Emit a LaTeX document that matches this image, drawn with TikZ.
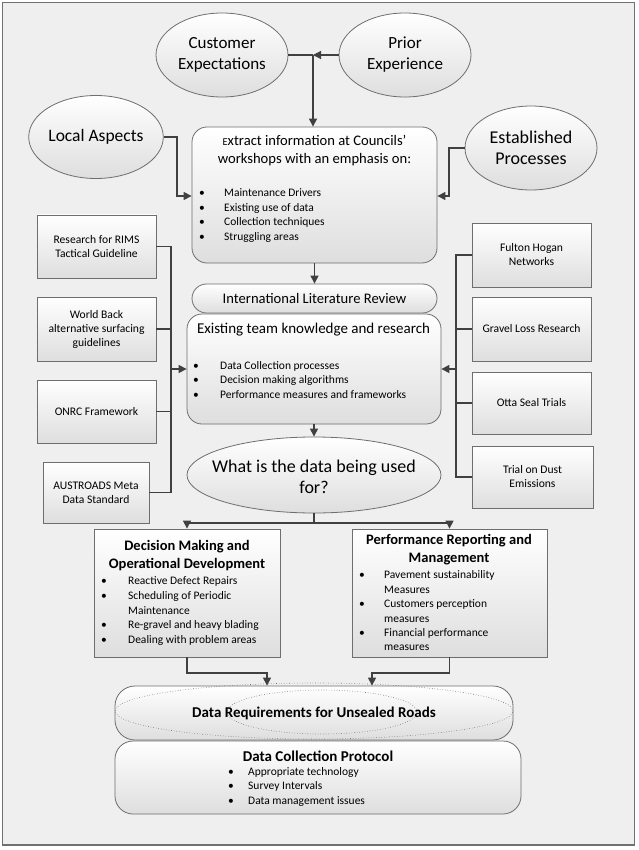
\documentclass[tikz,border=0pt]{standalone}
\usepackage{fontspec}
\setmainfont{Carlito}
\usetikzlibrary{shapes.geometric,arrows.meta,calc}
\definecolor{bg}{HTML}{EFEFEF}
\definecolor{ln}{HTML}{404040}
\definecolor{bd}{HTML}{6E6E6E}
\definecolor{shd}{HTML}{DEDEDE}
\definecolor{frm}{HTML}{707070}
\newcommand\blt[1]{\makebox[#1][l]{\textbullet}}
\newcommand\bind[1]{\hspace*{#1}}
\tikzset{
  ell/.style={ellipse, draw=bd, line width=0.8pt, top color=white, bottom color=shd, inner sep=0pt, align=center},
  rbox/.style={rectangle, draw=bd, line width=0.8pt, top color=white, bottom color=shd, inner sep=0pt},
  sbox/.style={rectangle, draw=bd, line width=0.8pt, top color=white, bottom color=shd, inner sep=0pt, align=center, font=\fontsize{11.6}{14}\selectfont},
  txt/.style={inner sep=0pt, align=center},
  blist/.style={inner sep=0pt, align=left, anchor=west},
  con/.style={ln, line width=1.2pt},
  arr/.style={ln, line width=1.2pt, -{Triangle[length=8pt,width=8pt]}},
  dots/.style={ellipse, draw=gray!90!black, dotted, line width=0.6pt, inner sep=0pt}
}
\begin{document}
\begin{tikzpicture}[x=1pt,y=-1pt]
\useasboundingbox (0,0) rectangle (638,850);
\fill[white] (0,0) rectangle (638,850);
\draw[frm, line width=1.3pt, fill=bg] (2.5,2.5) rectangle (634.5,845);

% top ellipses
\node[ell, minimum width=132pt, minimum height=84pt, font=\fontsize{17}{21}\selectfont] (cust) at (222,55) {Customer\\Expectations};
\node[ell, minimum width=132pt, minimum height=84pt, font=\fontsize{17}{21}\selectfont] (prior) at (405,55) {Prior\\Experience};
\node[ell, minimum width=132pt, minimum height=83pt, font=\fontsize{17.5}{21}\selectfont] (local) at (96,137) {Local Aspects};
\node[ell, minimum width=132pt, minimum height=84pt, font=\fontsize{18}{20.5}\selectfont] (est) at (531,148) {Established\\Processes};

% workshop box
\node[rbox, rounded corners=15pt, minimum width=245pt, minimum height=136pt] (work) at (314.5,195) {};
\node[txt, font=\fontsize{14.6}{18}\selectfont] (workt) at (314.5,151) {{\fontsize{10.5}{10.5}\selectfont E}xtract information at Councils’\\workshops with an emphasis on:};
\node[blist, font=\fontsize{11.5}{14.7}\selectfont] (workb) at (199,215.5) {\blt{25pt}Maintenance Drivers\\\blt{25pt}Existing use of data\\\blt{25pt}Collection techniques\\\blt{25pt}Struggling areas};

% literature review and team knowledge
\node[rbox, rounded corners=14.5pt, minimum width=245pt, minimum height=29pt, font=\fontsize{14.6}{17}\selectfont] (intl) at (314.5,298.5) {International Literature Review};
\node[rbox, rounded corners=15pt, minimum width=254pt, minimum height=110pt] (exist) at (314,369) {};
\node[txt, font=\fontsize{15}{18}\selectfont] (existt) at (313.5,330) {Existing team knowledge and research};
\node[blist, font=\fontsize{11.5}{14.5}\selectfont] (existb) at (193,379.7) {\blt{27pt}Data Collection processes\\\blt{27pt}Decision making algorithms\\\blt{27pt}Performance measures and frameworks};

% question ellipse
\node[ell, minimum width=254pt, minimum height=76pt] (dataell) at (314,475) {};
\node[txt, font=\fontsize{18}{20.5}\selectfont] (datat) at (314,477) {What is the data being used\\for?};

% left boxes
\node[sbox, minimum width=119pt, minimum height=63pt] (rims) at (96.5,246.5) {Research for RIMS\\Tactical Guideline};
\node[sbox, minimum width=119pt, minimum height=64pt] (world) at (96.5,329) {World Back\\alternative surfacing\\guidelines};
\node[sbox, minimum width=119pt, minimum height=63pt] (onrc) at (96.5,411.5) {ONRC Framework};
\node[sbox, minimum width=106pt, minimum height=61pt] (aus) at (96,492.5) {AUSTROADS Meta\\Data Standard};

% right boxes
\node[sbox, minimum width=119pt, minimum height=64pt] (fulton) at (531.5,255) {Fulton Hogan\\Networks};
\node[sbox, minimum width=119pt, minimum height=64pt] (gravel) at (531.5,329) {Gravel Loss Research};
\node[sbox, minimum width=119pt, minimum height=62pt] (otta) at (531.5,403) {Otta Seal Trials};
\node[sbox, minimum width=121pt, minimum height=62pt] (trial) at (532.5,477) {Trial on Dust\\Emissions};

% decision / performance boxes
\node[rbox, minimum width=186pt, minimum height=128pt] (dec) at (187,593) {};
\node[txt, font=\bfseries\fontsize{14.5}{18}\selectfont] (dect) at (187,556) {Decision Making and\\Operational Development};
\node[blist, font=\fontsize{11.5}{14.75}\selectfont] (decb) at (101,611.2) {\blt{27pt}Reactive Defect Repairs\\\blt{27pt}Scheduling of Periodic\\\bind{27pt}Maintenance\\\blt{27pt}Re-gravel and heavy blading\\\blt{27pt}Dealing with problem areas};

\node[rbox, minimum width=195pt, minimum height=128pt] (perf) at (449.5,593) {};
\node[txt, font=\bfseries\fontsize{14.5}{17.5}\selectfont] (perft) at (449,549.5) {Performance Reporting and\\Management};
\node[blist, font=\fontsize{11.5}{14.4}\selectfont] (perfb) at (359,611) {\blt{25pt}Pavement sustainability\\\bind{25pt}Measures\\\blt{25pt}Customers perception\\\bind{25pt}measures\\\blt{25pt}Financial performance\\\bind{25pt}measures};

% data requirements
\node[rbox, rounded corners=20pt, minimum width=398pt, minimum height=54pt] (dreq) at (314,713) {};
\node[dots, minimum width=398pt, minimum height=56pt] (dre1) at (314,711) {};
\node[dots, minimum width=190pt, minimum height=44pt] (dre2) at (322,712) {};
\node[txt, font=\bfseries\fontsize{15}{18}\selectfont] (dreqt) at (314,713) {Data Requirements for Unsealed Roads};

% data collection protocol
\node[rbox, rounded corners=18pt, minimum width=406pt, minimum height=73pt] (dcol) at (318,777.5) {};
\node[txt, font=\bfseries\fontsize{15}{18}\selectfont] (dcolt) at (318,756) {Data Collection Protocol};
\node[blist, font=\fontsize{11.5}{14.5}\selectfont] (dcolb) at (228,786.7) {\blt{20pt}Appropriate technology\\\blt{20pt}Survey Intervals\\\blt{20pt}Data management issues};

% connectors
\coordinate (j1) at (313,55);
\draw[con] (cust.east) -- (j1);
\draw[arr] (prior.west) -- (j1);
\draw[arr] (j1) -- (j1 |- work.north);

\coordinate (la) at (177,196);
\draw[arr] (local.east) -| (la) -- (la -| work.west);
\coordinate (ea) at (449,196);
\draw[arr] (est.west) -| (ea) -- (ea -| work.east);

\draw[arr] (work.south) -- (intl.north);
\draw[arr] (exist.south) -- (dataell.north);

\coordinate (lbx) at (171,0);
\draw[con] (rims.east) -- (rims.east -| lbx) -- (aus.east -| lbx) -- (aus.east);
\draw[con] (world.east) -- (world.east -| lbx);
\draw[con] (onrc.east) -- (onrc.east -| lbx);
\draw[arr] (exist.west -| lbx) -- (exist.west);

\coordinate (rbx) at (456,0);
\draw[con] (fulton.west) -- (fulton.west -| rbx) -- (trial.west -| rbx) -- (trial.west);
\draw[con] (gravel.west) -- (gravel.west -| rbx);
\draw[con] (otta.west) -- (otta.west -| rbx);
\draw[arr] (exist.east -| rbx) -- (exist.east);

\coordinate (b1) at (314,523);
\draw[con] (dataell.south) -- (b1);
\draw[arr] (b1) -| (dec.north);
\draw[arr] (b1) -| (perf.north);

\coordinate (m1) at (267,673);
\coordinate (m2) at (372,673);
\draw[arr] (dec.south) |- (m1) -- (m1 |- dreq.north);
\draw[arr] (perf.south) |- (m2) -- (m2 |- dreq.north);
\end{tikzpicture}
\end{document}
